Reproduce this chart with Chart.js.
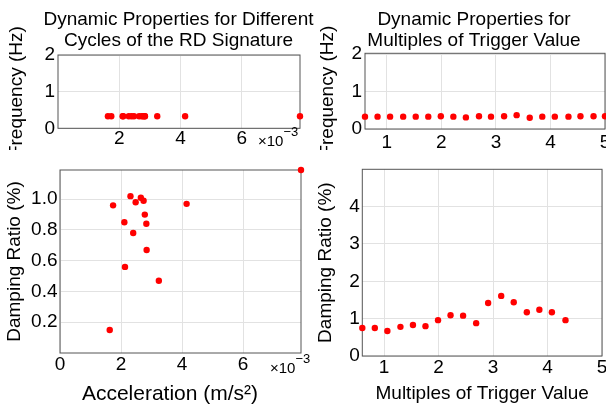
<!DOCTYPE html>
<html>
<head>
<meta charset="utf-8">
<script src="https://cdn.jsdelivr.net/npm/chart.js@4.4.1/dist/chart.umd.min.js"></script>
<style>
  html, body { margin: 0; padding: 0; width: 606px; height: 408px; overflow: hidden; background: #fff; }
  .panel { position: absolute; }
</style>
</head>
<body>
<div class="panel" style="left:0;top:0;width:357px;height:150px"><canvas id="freq_accel" width="357" height="150"></canvas></div>
<div class="panel" style="left:0;top:150px;width:310px;height:258px"><canvas id="damp_accel" width="310" height="258"></canvas></div>
<div class="panel" style="left:306px;top:0;width:336px;height:150px"><canvas id="freq_mult" width="336" height="150"></canvas></div>
<div class="panel" style="left:300px;top:150px;width:306px;height:258px"><canvas id="damp_mult" width="306" height="258"></canvas></div>
<script>
// acceleration of each RD cycle (m/s^2) and the identified properties
const accel = [0.00163, 0.00174, 0.00211, 0.00213, 0.00231, 0.0024, 0.00248, 0.00265, 0.00274, 0.00278, 0.00283, 0.00284, 0.00324, 0.00415, 0.0079];
const freqByAccel = [0.33, 0.33, 0.33, 0.33, 0.33, 0.33, 0.33, 0.33, 0.33, 0.33, 0.33, 0.33, 0.33, 0.33, 0.33];
const dampByAccel = [0.15, 0.96, 0.85, 0.56, 1.02, 0.78, 0.98, 1.01, 0.99, 0.9, 0.84, 0.67, 0.47, 0.97, 1.19];

// multiples of trigger value
const multiples = [0.6, 0.83, 1.06, 1.3, 1.53, 1.76, 1.99, 2.22, 2.45, 2.69, 2.91, 3.15, 3.38, 3.62, 3.85, 4.08, 4.33, 4.55, 4.79, 5.0];
const freqByMult = [0.33, 0.33, 0.33, 0.33, 0.33, 0.33, 0.34, 0.33, 0.31, 0.34, 0.33, 0.34, 0.37, 0.3, 0.33, 0.33, 0.33, 0.34, 0.34, 0.34];
const dampByMult = [0.75, 0.75, 0.67, 0.78, 0.83, 0.8, 0.96, 1.09, 1.08, 0.88, 1.42, 1.61, 1.44, 1.17, 1.24, 1.17, 0.96];

// tick values
const accelTicksTop = [0.002, 0.004, 0.006];
const accelTicks = [0, 0.002, 0.004, 0.006];
const freqTicks = [0, 1, 2];
const dampAccelTicks = [0.2, 0.4, 0.6, 0.8, 1.0];
const multTicks = [1, 2, 3, 4, 5];
const dampMultTicks = [0, 1, 2, 3, 4];

const FONT = "'Liberation Sans', Arial, Helvetica, sans-serif";
const GRID = "#e2e2e2";
const BOX = "#555";

Chart.defaults.font.family = FONT;
Chart.defaults.color = "#000";

const toPoints = (xs, ys) => ys.map((y, i) => ({ x: xs[i], y: y }));

// MATLAB-style closed box round the plot area
const boxPlugin = {
  id: "box",
  beforeDatasetsDraw(chart) {
    const { ctx, chartArea: a } = chart;
    ctx.save();
    ctx.strokeStyle = BOX;
    ctx.lineWidth = 1;
    ctx.strokeRect(a.left, a.top, a.right - a.left, a.bottom - a.top);
    ctx.restore();
  },
};

// "x10^-3" exponent label next to the x axis
function exponentLabel(dx, dy) {
  return {
    id: "exponent",
    afterDraw(chart) {
      const { ctx, chartArea: a } = chart;
      const x = a.right + dx;
      const y = a.bottom + dy;
      ctx.save();
      ctx.fillStyle = "#000";
      ctx.textBaseline = "middle";
      ctx.textAlign = "left";
      ctx.font = "15px " + FONT;
      ctx.fillText("×10", x, y);
      const w = ctx.measureText("×10").width;
      ctx.font = "13px " + FONT;
      ctx.fillText("−3", x + w, y - 9);
      ctx.restore();
    },
  };
}

function makeScale(o) {
  return {
    type: "linear",
    position: o.position,
    min: o.min,
    max: o.max,
    afterBuildTicks: (s) => { s.ticks = o.ticks.map((v) => ({ value: v })); },
    afterFit: (s) => {
      if (o.position === "bottom") s.height = o.size; else s.width = o.size;
      s.paddingLeft = 0; s.paddingRight = 0; s.paddingTop = 0; s.paddingBottom = 0;
    },
    grid: { color: GRID, drawTicks: false },
    border: { display: false },
    ticks: {
      font: { size: 19, lineHeight: 1.1 },
      color: "#000",
      padding: o.pad,
      autoSkip: false,
      maxRotation: 0,
      callback: o.fmt,
    },
    title: o.title
      ? {
          display: true,
          text: o.title,
          color: "#000",
          font: { size: o.titleSize || 19, lineHeight: 1.1 },
          padding: o.titlePad,
        }
      : { display: false },
  };
}

function makeChart(id, o) {
  const scales = { x: makeScale(o.x), y: makeScale(o.y) };
  if (o.rightSpace) {
    // empty axis that only keeps room on the right, so the title centres where it should
    scales.yR = {
      type: "linear",
      position: "right",
      grid: { display: false },
      border: { display: false },
      ticks: { display: false },
      afterFit: (s) => { s.width = o.rightSpace; },
    };
  }
  return new Chart(document.getElementById(id).getContext("2d"), {
    type: "scatter",
    data: {
      datasets: [
        {
          data: o.data,
          pointRadius: 3.2,
          pointBackgroundColor: "#ff0000",
          pointBorderWidth: 0,
          showLine: false,
          clip: false,
        },
      ],
    },
    options: {
      responsive: false,
      animation: false,
      devicePixelRatio: 1,
      layout: { padding: o.padding },
      plugins: {
        legend: { display: false },
        tooltip: { enabled: false },
        title: o.title
          ? {
              display: true,
              text: o.title,
              color: "#000",
              font: { size: 19, weight: "normal", lineHeight: 1.1 },
              padding: o.titlePad,
            }
          : { display: false },
      },
      scales: scales,
    },
    plugins: [boxPlugin].concat(o.extra || []),
  });
}

const milli = (v) => String(Math.round(v * 1000));
const plain = (v) => String(v);

makeChart("freq_accel", {
  data: toPoints(accel, freqByAccel),
  padding: { left: 0, right: 0, top: 0, bottom: 0 },
  title: ["Dynamic Properties for Different", "Cycles of the RD Signature"],
  titlePad: { top: 9.2, bottom: 4 },
  rightSpace: 57,
  x: { position: "bottom", min: 0, max: 0.0079, ticks: accelTicksTop, fmt: milli, size: 21.7, pad: 0 },
  y: { position: "left", min: 0, max: 2, ticks: freqTicks, fmt: plain, size: 58, pad: 3,
       title: "Frequency (Hz)", titlePad: { top: 6.5, bottom: 0 } },
  extra: [exponentLabel(-42, 13.4)],
});

makeChart("damp_accel", {
  data: toPoints(accel, dampByAccel),
  padding: { left: 0, right: 9, top: 20, bottom: 0 },
  x: { position: "bottom", min: 0, max: 0.0079, ticks: accelTicks, fmt: milli, size: 55, pad: 1.5,
       title: "Acceleration (m/s²)\u2003", titleSize: 21, titlePad: { top: 0, bottom: 2.2 } },
  y: { position: "left", min: 0, max: 1.19, ticks: dampAccelTicks, fmt: (v) => v.toFixed(1), size: 60, pad: 2.5,
       title: "Damping Ratio (%)", titlePad: { top: 4.5, bottom: 0 } },
  extra: [exponentLabel(-31, 15.8)],
});

makeChart("freq_mult", {
  data: toPoints(multiples, freqByMult),
  padding: { left: 0, right: 0, top: 0, bottom: 0 },
  title: ["Dynamic Properties for", "Multiples of Trigger Value"],
  titlePad: { top: 9.2, bottom: 2.3 },
  rightSpace: 37,
  x: { position: "bottom", min: 0.6, max: 5, ticks: multTicks, fmt: plain, size: 21, pad: 3.5 },
  y: { position: "left", min: 0, max: 2.02, ticks: freqTicks, fmt: plain, size: 59, pad: 3,
       title: "Frequency (Hz)", titlePad: { top: 11.5, bottom: 0 } },
});

makeChart("damp_mult", {
  data: toPoints(multiples, dampByMult),
  padding: { left: 0, right: 2, top: 19.3, bottom: 0 },
  x: { position: "bottom", min: 0.6, max: 5, ticks: multTicks, fmt: plain, size: 52, pad: 1.8,
       title: "Multiples of Trigger Value", titlePad: { top: 0, bottom: 3.5 } },
  y: { position: "left", min: 0, max: 5, ticks: dampMultTicks, fmt: plain, size: 62.3, pad: 2.5,
       title: "Damping Ratio (%)", titlePad: { top: 15.5, bottom: 0 } },
});
</script>
</body>
</html>
